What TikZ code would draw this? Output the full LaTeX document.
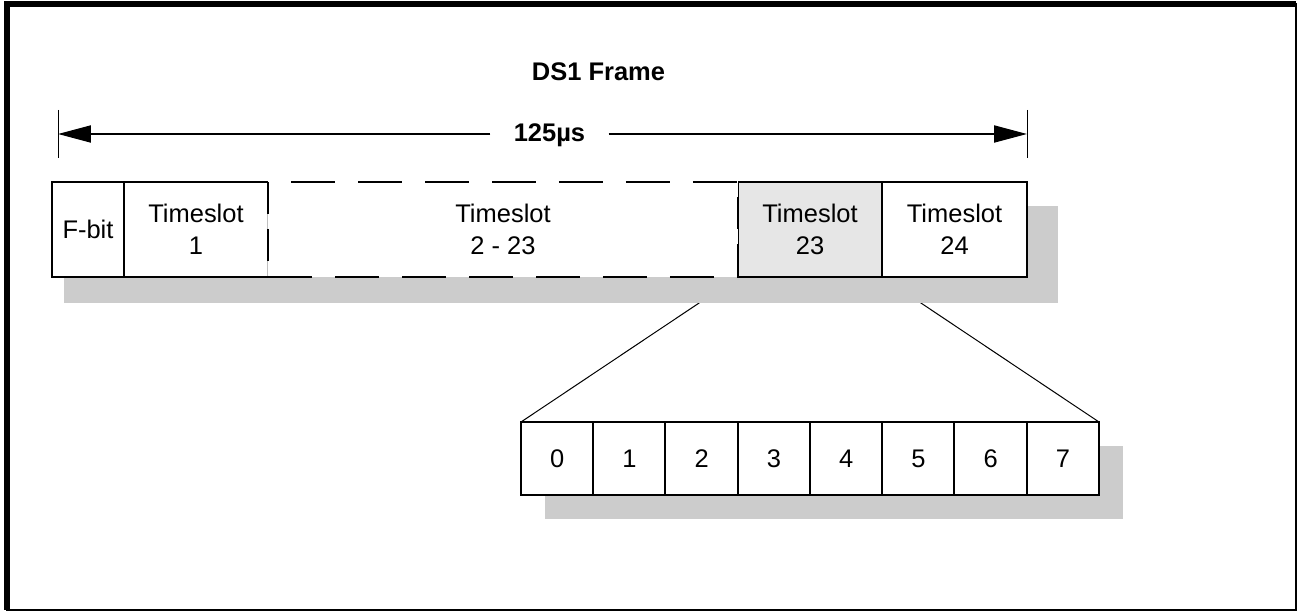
\documentclass[tikz,border=0pt]{standalone}
\usepackage{fontspec}
\setmainfont{Liberation Sans}
\usepackage{tikz}
\usetikzlibrary{arrows.meta,positioning}
\definecolor{shadowgray}{HTML}{CCCCCC}
\definecolor{slotgray}{HTML}{E6E6E6}
\newcommand{\slotsize}{\fontsize{14.5}{18.5}\selectfont}
\pgfdeclarelayer{behind}
\pgfsetlayers{behind,main}

\begin{document}
\begin{tikzpicture}[x=0.02cm,y=-0.02cm,
    frameline/.style={line width=0.04cm},
    cell/.style={rectangle,fill=white,inner sep=0pt,outer sep=0pt,align=center,
        minimum height=1.9cm,font=\slotsize},
    bitcell/.style={rectangle,draw,fill=white,frameline,inner sep=0pt,outer sep=0pt,
        minimum width=1.445cm,minimum height=1.46cm,font=\slotsize},
    longdashed/.style={frameline,dash pattern=on 0.88cm off 0.46cm},
    shortdashed/.style={frameline,dash pattern=on 0.64cm off 0.3cm},
    dimline/.style={frameline,-{Triangle[length=0.66cm,width=0.34cm]}}]
	\useasboundingbox (0,0) rectangle (1298,611);
	% outer border
	\draw[line width=0.04cm] (7,4.5) rectangle (1296,609.5);
	\draw[line width=0.12cm] (7,609.5) -- (7,4.5) -- (1296,4.5);

	% shadows
	\fill[shadowgray] (64,206) rectangle (1058,303);
	\fill[shadowgray] (545,446) rectangle (1123,519);

	% title and duration
	\node[font=\slotsize\bfseries] (title) at (598.5,72) {DS1 Frame};
	\coordinate (dimL) at (58,134);
	\coordinate (dimR) at (1027,134);
	\draw[line width=0.02cm] (58,110) -- (58,158);
	\draw[line width=0.02cm] (1027,110) -- (1027,158);
	\node[anchor=base,font=\slotsize\bfseries,inner xsep=0.46cm] (dur) at (549.5,142) {125µs};
	\draw[dimline] (dur.west |- dimL) -- (dimL);
	\draw[dimline] (dur.east |- dimR) -- (dimR);

	% DS1 frame
	\node[cell,draw,frameline,minimum width=1.44cm] (fbit) at (88,229.5) {F-bit};
	\node[cell,minimum width=2.88cm] (ts1) at (196,229.5) {Timeslot\\1};
	\node[cell,minimum width=9.4cm] (tsmid) at (503,229.5) {Timeslot\\2 - 23};
	\node[cell,fill=slotgray,minimum width=2.88cm] (ts23) at (810,229.5) {Timeslot\\23};
	\node[cell,draw,frameline,minimum width=2.9cm] (ts24) at (954.5,229.5) {Timeslot\\24};
	\draw[frameline] (ts1.north east) -- (ts1.north west) -- (ts1.south west) -- (ts1.south east);
	\draw[frameline] (ts23.north west) -- (ts23.north east) -- (ts23.south east) -- (ts23.south west);
	\draw[gray!50,line width=0.02cm] (ts1.north east) -- (ts1.south east);
	\draw[line width=0.02cm] (ts23.north west) -- (ts23.south west);
	\draw[longdashed,dash phase=0.88cm] (tsmid.north west) -- (tsmid.north east);
	\draw[longdashed] (tsmid.south west) -- (tsmid.south east);
	\draw[shortdashed] (tsmid.north west) -- (tsmid.south west);
	\draw[shortdashed,dash phase=0.64cm] (tsmid.north east) -- (tsmid.south east);

	% bits of timeslot 23
	\node[bitcell] (b0) at (557.1,458.5) {0};
	\node[bitcell] (b1) at (629.4,458.5) {1};
	\node[bitcell] (b2) at (701.6,458.5) {2};
	\node[bitcell] (b3) at (773.9,458.5) {3};
	\node[bitcell] (b4) at (846.1,458.5) {4};
	\node[bitcell] (b5) at (918.4,458.5) {5};
	\node[bitcell] (b6) at (990.6,458.5) {6};
	\node[bitcell] (b7) at (1062.9,458.5) {7};

	% expansion lines
	\begin{pgfonlayer}{behind}
		\draw[line width=0.02cm] (b0.north west) -- (ts23.south west);
		\draw[line width=0.02cm] (b7.north east) -- (ts23.south east);
	\end{pgfonlayer}
\end{tikzpicture}
\end{document}
